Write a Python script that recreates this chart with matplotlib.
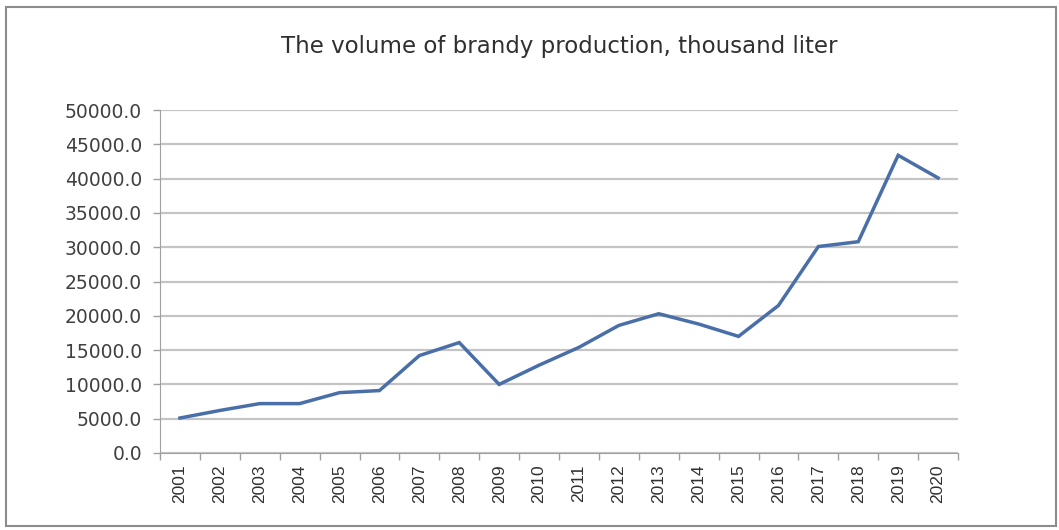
import numpy as np
import matplotlib
matplotlib.use('Agg')
import matplotlib.pyplot as plt
from matplotlib.patches import Rectangle

years = [str(y) for y in range(2001, 2021)]
volume = [5100, 6200, 7200, 7200, 8800, 9100, 14200, 16100, 10000, 12800,
          15400, 18600, 20300, 18800, 17000, 21500, 30100, 30800, 43400, 40100]
yticks = np.arange(0, 50001, 5000)

fig = plt.figure(figsize=(10.59, 5.30), dpi=100)
ax = fig.add_axes([160/1059, 1 - 453/530, 798/1059, 343/530])

x = np.arange(len(years))
ax.plot(x, volume, color='#4a6fa8', lw=2.5, solid_joinstyle='miter', zorder=3)

ax.set_xlim(-0.5, len(years) - 0.5)
ax.set_ylim(0, 50000)
ax.set_yticks(yticks)
ax.set_yticklabels([f'{v:.1f}' for v in yticks], fontsize=13.5, color='#404040')
ax.set_xticks(x)
ax.set_xticklabels(years, rotation=90, fontsize=12.5, family='Liberation Sans', color='#303030')
ax.set_xticks(np.arange(-0.5, len(years)), minor=True)
ax.tick_params(axis='x', which='major', length=0, pad=8)
ax.tick_params(axis='x', which='minor', length=5, color='#a0a0a0', width=1)
ax.tick_params(axis='y', length=5, color='#a0a0a0', width=1, pad=8)

ax.grid(axis='y', color='#c4c4c4', lw=1.6)
ax.set_axisbelow(True)
for s in ['top', 'right']:
    ax.spines[s].set_visible(False)
ax.spines['left'].set_color('#a0a0a0')
ax.spines['bottom'].set_color('#a0a0a0')
ax.spines['left'].set_bounds(0, 50000)

fig.text(559/1059, 1 - 46/530, 'The volume of brandy production, thousand liter',
         ha='center', va='center', fontsize=16.5, color='#303030')

fig.patches.append(Rectangle((6/1059, 4/530), 1050/1059, 519/530, transform=fig.transFigure,
                             fill=False, edgecolor='#8c8c8c', lw=1.5))

fig.savefig('out.png', dpi=100)
